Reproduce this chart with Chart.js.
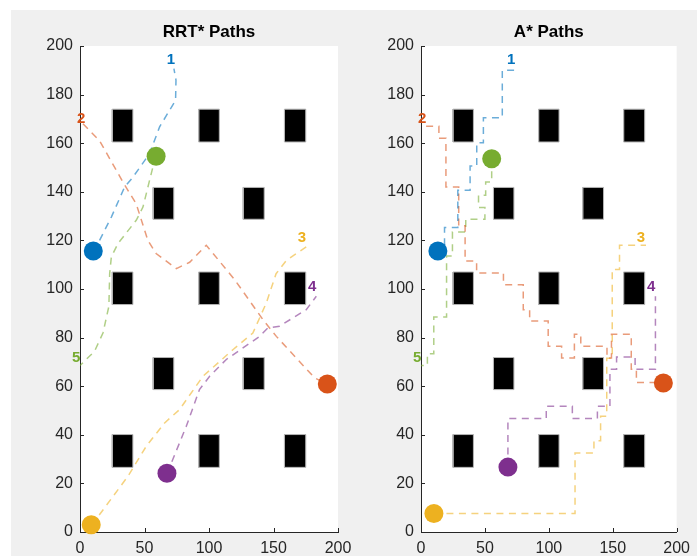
<!DOCTYPE html>
<html><head><meta charset="utf-8">
<script src="https://cdn.jsdelivr.net/npm/chart.js@4.4.1/dist/chart.umd.min.js"></script>
<style>
html,body{margin:0;padding:0;background:#fff;width:697px;height:556px;overflow:hidden;}
#bg{position:absolute;left:11px;top:10px;width:686px;height:546px;background:#f0f0f0;}
canvas{position:absolute;top:0;}
#c1{left:0;width:372px;height:556px;}
#c2{left:348px;width:349px;height:556px;}
</style></head><body>
<div id="bg"></div>
<canvas id="c1" width="372" height="556"></canvas>
<canvas id="c2" width="349" height="556"></canvas>
<script>
// ---------- data ----------
const xTicks = [0, 50, 100, 150, 200];
const yTicks = [0, 20, 40, 60, 80, 100, 120, 140, 160, 180, 200];
const robotLabels = ['1', '2', '3', '4', '5'];
const robotColors = ['#0072BD', '#D95319', '#EDB120', '#7E2F8E', '#77AC30'];
const pathColors = ['rgba(0,114,189,0.58)', 'rgba(217,83,25,0.58)', 'rgba(237,177,32,0.58)', 'rgba(126,47,142,0.58)', 'rgba(119,172,48,0.58)'];
const labelX = [70.5, 1, 172, 180, -3];
const labelY = [194.5, 170, 121, 100.7, 71.6];

// obstacles: [xmin, xmax, ymin, ymax]
const obstacles = [
  [25, 41, 160.5, 174], [92, 108, 160.5, 174], [158.5, 175, 160.5, 174],
  [56.7, 72.7, 128.7, 141.8], [126.5, 142.8, 128.7, 141.8],
  [25, 41, 93.6, 107], [92, 108, 93.6, 107], [158.5, 175, 93.6, 107],
  [56.7, 72.7, 58.6, 71.8], [126.5, 142.8, 58.6, 71.8],
  [25, 41, 26.6, 40.1], [92, 108, 26.6, 40.1], [158.5, 175, 26.6, 40.1]
];

// RRT* markers and paths
const rrtMarkers = [[10.3, 115.6], [191.7, 60.9], [8.7, 3], [67.4, 24.2], [59, 154.6]];
const rrtPath1 = [[10.3,115.6],[13.9,118.7],[24.3,129.6],[34.6,142],[41,146],[53.9,155.7],[61.7,166.7],[74.1,177.7],[74.4,186],[72.8,190.7]];
const rrtPath2 = [[2.3,168],[15.2,161],[33.3,144],[43.6,135],[52.6,120],[59,114.6],[74.7,108.4],[85,111],[97.9,118],[119.8,103.9],[141.8,87.4],[152.2,80.5],[181.9,63.4],[191.7,60.9]];
const rrtPath3 = [[8.7,3],[15.2,7.2],[37.1,22.9],[51.4,35.3],[65.6,44.9],[77.2,50.4],[95.3,64.1],[118.5,75],[134,81.9],[144.4,94.2],[152,106.3],[160,111.8],[175.4,117.3]];
const rrtPath4 = [[67.4,24.2],[70.8,28.4],[82.4,43.5],[92.6,58.6],[100.5,64.1],[113.4,71],[139.2,80.5],[145.7,84],[154.7,84.7],[175.4,91.5],[183.2,97]];
const rrtPath5 = [[59,154.6],[56.5,150.2],[48.8,133.7],[43.6,128.3],[29.4,118.7],[24.3,113.2],[23,106.3],[22.4,92.9],[17.8,81.9],[11.3,74.4],[0,68.5]];

// A* markers and paths
const astarMarkers = [[13.2, 115.6], [189.6, 61.3], [10.1, 7.6], [68, 26.7], [55.3, 153.6]];
const astarPath1 = [[13.2,115.6],[18.4,115.6],[18.4,125.3],[28.8,125.3],[28.8,140.6],[38.4,140.6],[38.4,150.6],[43.6,150.6],[43.6,160.2],[48.8,160.2],[48.8,170.5],[63.6,170.5],[63.6,190],[73.7,190]];
const astarPath2 = [[4,167],[14,167],[14,162],[19.5,162],[19.5,142],[29.5,142],[29.5,126],[34.5,126],[34.5,111.5],[43.5,111.5],[43.5,106.6],[64.5,106.6],[64.5,101.8],[80,101.8],[80,91.5],[85,91.5],[85,86.8],[99.5,86.8],[99.5,76.4],[110,76.4],[110,71.6],[120,71.6],[120,81.4],[125,81.4],[125,76.4],[145.5,76.4],[145.5,71.6],[149,71.6],[149,81.4],[164.5,81.4],[164.5,67],[168.5,67],[168.5,61.5],[189.6,61.5]];
const astarPath3 = [[10.1,7.6],[120.5,7.6],[120.5,32.5],[135.3,32.5],[135.3,37.6],[140.5,37.6],[140.5,47.6],[145.3,47.6],[145.3,71.5],[149.6,71.5],[149.6,108],[155.3,108],[155.3,118],[176,118]];
const astarPath4 = [[68,26.7],[68,46.7],[98,46.7],[98,51.7],[118.4,51.7],[118.4,46.7],[138,46.7],[138,51.7],[147.8,51.7],[147.8,67],[153,67],[153,72],[167.5,72],[167.5,67],[183.4,67],[183.4,97]];
const astarPath5 = [[55.3,153.6],[55.3,144],[50.6,144],[50.6,138.6],[45,138.6],[45,133.5],[50,133.5],[50,128.7],[35,128.7],[35,123.5],[24.6,123.5],[24.6,113.6],[20,113.6],[20,88.5],[10,88.5],[10,73.4],[5,73.4],[5,68.5],[0,68.5]];

// ---------- chart builder ----------
const FONT = "'Liberation Sans', Arial, Helvetica, sans-serif";
const AXIS = '#262626';

const toXY = arr => arr.map(p => ({x: p[0], y: p[1]}));

const decor = {
  id: 'matlabDecor',
  beforeDraw(chart) {
    const a = chart.chartArea, ctx = chart.ctx;
    ctx.save(); ctx.fillStyle = '#ffffff';
    ctx.fillRect(a.left, a.top, a.right - a.left, a.bottom - a.top);
    ctx.restore();
  },
  afterDraw(chart) {
    const a = chart.chartArea, ctx = chart.ctx;
    const xs = chart.scales.x, ys = chart.scales.y;
    ctx.save();
    // inward ticks
    ctx.strokeStyle = AXIS; ctx.lineWidth = 1;
    ctx.beginPath();
    xTicks.forEach(v => { const px = Math.round(xs.getPixelForValue(v)) + 0.5; ctx.moveTo(px, a.bottom); ctx.lineTo(px, a.bottom - 4); });
    yTicks.forEach(v => { const py = Math.round(ys.getPixelForValue(v)) + 0.5; ctx.moveTo(a.left, py); ctx.lineTo(a.left + 4, py); });
    ctx.stroke();
    // robot labels
    ctx.font = 'bold 15px ' + FONT;
    ctx.textAlign = 'center'; ctx.textBaseline = 'middle';
    robotLabels.forEach((t, i) => {
      ctx.fillStyle = robotColors[i];
      ctx.fillText(t, xs.getPixelForValue(labelX[i]), ys.getPixelForValue(labelY[i]));
    });
    // title
    ctx.fillStyle = '#000000';
    ctx.font = 'bold 17px ' + FONT;
    ctx.textBaseline = 'middle';
    ctx.fillText(chart.options.plugins.matlabDecor.title, (a.left + a.right) / 2, 32);
    ctx.restore();
  }
};

function makeChart(id, title, markers, paths, yAxisWidth, padRight) {
  const datasets = [];
  datasets.push({
    data: toXY(markers), showLine: false, pointRadius: 9.5, pointHoverRadius: 9.5,
    pointBackgroundColor: robotColors, pointBorderWidth: 0, order: 0, clip: false
  });
  paths.forEach((p, i) => datasets.push({
    data: toXY(p), showLine: true, pointRadius: 0, borderColor: pathColors[i],
    borderWidth: 1.5, borderDash: [7, 5.5], tension: 0, fill: false, order: 1
  }));
  obstacles.forEach(o => datasets.push({
    data: toXY([[o[0], o[2]], [o[1], o[2]], [o[1], o[3]], [o[0], o[3]], [o[0], o[2]]]),
    showLine: true, pointRadius: 0, borderColor: '#b4b4b4', borderWidth: 1,
    backgroundColor: '#000000', fill: 'shape', tension: 0, order: 2
  }));
  return new Chart(document.getElementById(id), {
    type: 'scatter',
    data: {datasets},
    options: {
      responsive: false, animation: false, events: [],
      layout: {padding: {left: 0, right: padRight, top: 46, bottom: 0}, autoPadding: false},
      plugins: {legend: {display: false}, tooltip: {enabled: false}, title: {display: false},
        matlabDecor: {title}},
      scales: {
        x: {
          type: 'linear', min: 0, max: 200,
          afterBuildTicks: s => { s.ticks = xTicks.map(v => ({value: v})); },
          afterFit: s => { s.height = 24; },
          ticks: {color: AXIS, font: {family: FONT, size: 16}, padding: 7, maxRotation: 0, autoSkip: false},
          grid: {display: true, drawOnChartArea: false, drawTicks: false},
          border: {display: true, color: AXIS, width: 1}
        },
        y: {
          type: 'linear', min: 0, max: 200,
          afterBuildTicks: s => { s.ticks = yTicks.map(v => ({value: v})); },
          afterFit: s => { s.width = yAxisWidth; },
          ticks: {color: AXIS, font: {family: FONT, size: 16}, padding: 7, autoSkip: false},
          grid: {display: true, drawOnChartArea: false, drawTicks: false},
          border: {display: true, color: AXIS, width: 1}
        }
      }
    },
    plugins: [decor]
  });
}

makeChart('c1', 'RRT* Paths', rrtMarkers, [rrtPath1, rrtPath2, rrtPath3, rrtPath4, rrtPath5], 80, 34);
makeChart('c2', 'A* Paths', astarMarkers, [astarPath1, astarPath2, astarPath3, astarPath4, astarPath5], 73, 20);
</script>
</body></html>
